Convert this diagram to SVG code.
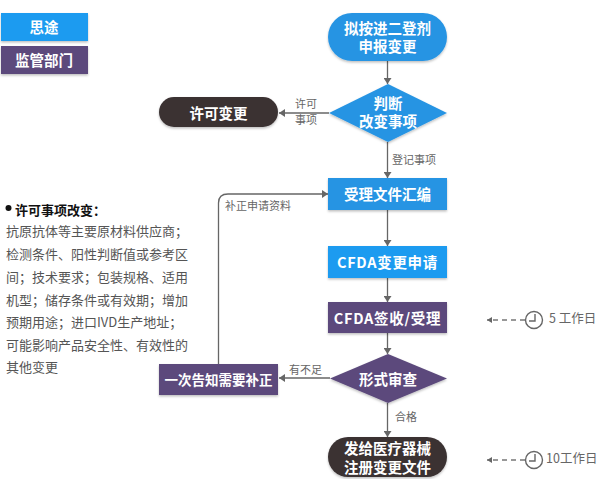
<svg xmlns="http://www.w3.org/2000/svg" width="599" height="479" viewBox="0 0 599 479">
<defs>
<marker id="a" markerUnits="userSpaceOnUse" markerWidth="8" markerHeight="8" refX="6" refY="4" orient="auto"><path d="M0 0L6 4L0 8z" fill="#666"/></marker>
<marker id="b" markerUnits="userSpaceOnUse" markerWidth="6" markerHeight="6" refX="5" refY="3" orient="auto"><path d="M0 0L5 3L0 6z" fill="#666"/></marker>
<filter id="s" x="-5%" y="-10%" width="110%" height="125%"><feDropShadow dx="0" dy="1.5" stdDeviation="1" flood-color="#000" flood-opacity="0.25"/></filter>
</defs>
<style>
text{font-family:"Noto Sans CJK SC","Liberation Sans",sans-serif}
.n{filter:url(#s)}
.t{fill:#fff;font-size:14.5px;font-weight:700;text-anchor:middle}
.u{letter-spacing:.7px}
.blue{fill:#2794e3}.sky{fill:#1f9bf0}.pur{fill:#5c4a7c}.dark{fill:#3b3233}
.c{fill:none;stroke:#666;stroke-width:1.3}
.l{fill:#666;font-size:11px}
.b{fill:#555;font-size:13px}
.d{fill:none;stroke:#777;stroke-width:1.3;stroke-dasharray:5 4}
.k{fill:none;stroke:#666;stroke-width:1.4}
.w{fill:#666;font-size:12.5px}
</style>
<rect width="599" height="479" fill="#fff"/>
<g id="connectors">
<path class="c" d="M387.500 61V84" marker-end="url(#a)"/>
<path class="c" d="M329 113H279" marker-end="url(#a)"/>
<path class="c" d="M387.500 142V178" marker-end="url(#a)"/>
<path class="c" d="M387.500 210V246" marker-end="url(#a)"/>
<path class="c" d="M387.500 278V302" marker-end="url(#a)"/>
<path class="c" d="M387.500 333V354" marker-end="url(#a)"/>
<path class="c" d="M330 378H279" marker-end="url(#a)"/>
<path class="c" d="M387.500 403V437" marker-end="url(#a)"/>
<path class="c" d="M218.500 364V203Q218.500 194 228 194H328" marker-end="url(#a)"/>
<text class="l" x="295" y="108">许可</text>
<text class="l" x="295" y="124">事项</text>
<text class="l" x="392" y="164">登记事项</text>
<text class="l" x="225" y="210">补正申请资料</text>
<text class="l" x="289" y="374">有不足</text>
<text class="l" x="395" y="421">合格</text>
</g>
<g id="legend-situ"><rect class="sky n" x="1" y="13" width="87" height="28"/><text class="t" x="44" y="33">思途</text></g>
<g id="legend-dept"><rect class="pur n" x="1" y="46" width="87" height="28"/><text class="t" x="44" y="66">监管部门</text></g>
<g id="start"><rect class="blue n" x="328" y="13" width="119" height="48" rx="24"/><text class="t"><tspan x="387.500" y="34">拟按进二登剂</tspan><tspan x="387.500" y="52">申报变更</tspan></text></g>
<g id="decision1"><path class="blue n" d="M388 84L447 113L388 142L329 113z"/><text class="t"><tspan x="388" y="109">判断</tspan><tspan x="388" y="127">改变事项</tspan></text></g>
<g id="permit"><rect class="dark n" x="159" y="97" width="119" height="30" rx="15"/><text class="t" x="218.500" y="119">许可变更</text></g>
<g id="compile"><rect class="blue n" x="328" y="178" width="119" height="32"/><text class="t" x="387.500" y="200">受理文件汇编</text></g>
<g id="apply"><rect class="sky n" x="328" y="246" width="119" height="32"/><text class="t u" x="387.500" y="268">CFDA变更申请</text></g>
<g id="receive"><rect class="pur n" x="328" y="302" width="119" height="31"/><text class="t u" x="387.500" y="324">CFDA签收/受理</text></g>
<g id="decision2"><path class="pur n" d="M388 354L447 378.500L388 403L330 378.500z"/><text class="t" x="388" y="385">形式审查</text></g>
<g id="notify"><rect class="pur n" x="159" y="364" width="119" height="31"/><text class="t" x="218.500" y="385" style="font-size:13.500px">一次告知需要补正</text></g>
<g id="final"><rect class="dark n" x="328" y="437" width="119" height="40" rx="20"/><text class="t"><tspan x="387.500" y="454">发给医疗器械</tspan><tspan x="387.500" y="473">注册变更文件</tspan></text></g>
<g id="notes">
<circle cx="8.500" cy="208" r="3" fill="#111"/>
<text x="15" y="215" fill="#111" font-size="13px" font-weight="700">许可事项改变：</text>
<text class="b" x="6" y="236">抗原抗体等主要原材料供应商；</text>
<text class="b" x="6" y="259">检测条件、阳性判断值或参考区</text>
<text class="b" x="6" y="282">间；技术要求；包装规格、适用</text>
<text class="b" x="6" y="305">机型；储存条件或有效期；增加</text>
<text class="b" x="6" y="327">预期用途；进口IVD生产地址；</text>
<text class="b" x="6" y="350">可能影响产品安全性、有效性的</text>
<text class="b" x="6" y="372">其他变更</text>
</g>
<g id="time5">
<path class="d" d="M525 320H487" marker-end="url(#b)"/>
<circle class="k" cx="534" cy="320" r="8.500"/><path class="k" d="M535 314V321H529"/>
<text class="w" x="549" y="323">5 工作日</text>
</g>
<g id="time10">
<path class="d" d="M525 460H487" marker-end="url(#b)"/>
<circle class="k" cx="534" cy="460" r="8.500"/><path class="k" d="M535 454V461H529"/>
<text class="w" x="546" y="463">10工作日</text>
</g>
</svg>
